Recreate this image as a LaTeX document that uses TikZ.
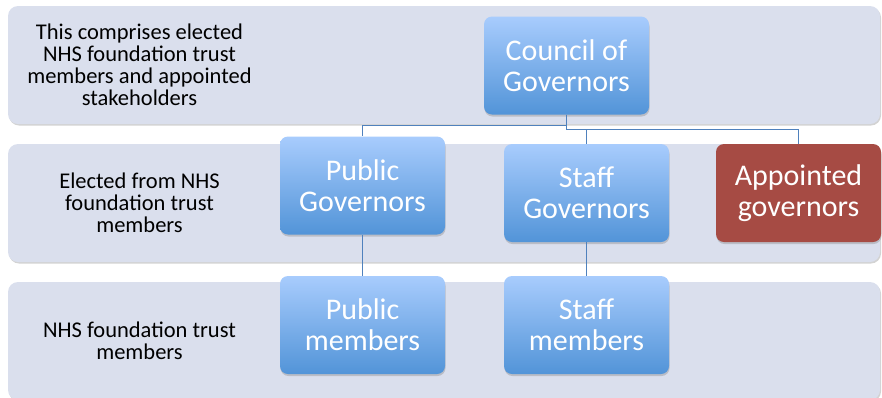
\documentclass[tikz,border=0pt]{standalone}
\usepackage{fontspec}
\setmainfont{Carlito}
\usetikzlibrary{shadows}

\definecolor{bandfill}{RGB}{218,223,237}
\definecolor{govtop}{RGB}{168,204,253}
\definecolor{govbot}{RGB}{82,148,216}
\definecolor{govred}{RGB}{166,75,68}
\definecolor{linkblue}{RGB}{79,129,189}

\tikzset{
	band/.style={fill=bandfill,rounded corners=10pt,minimum width=872,minimum height=118,inner sep=0pt,
		drop shadow={shadow xshift=1pt,shadow yshift=-1.5pt,opacity=0.35}},
	govbox/.style={top color=govtop,bottom color=govbot,rounded corners=8pt,minimum width=165,minimum height=98,
		inner sep=0pt,align=center,text=white,font=\fontsize{30}{31}\selectfont,
		drop shadow={shadow xshift=0.5pt,shadow yshift=-2pt,opacity=0.35}},
	redbox/.style={govbox,top color=govred,bottom color=govred},
	note/.style={align=center,font=\fontsize{22.5}{22}\selectfont,text=black},
	link/.style={draw=linkblue,line width=1.5pt}
}

\begin{document}
\begin{tikzpicture}[x=1pt,y=1pt]
	\useasboundingbox (0,0) rectangle (882,-397);

	%bands
	\node[band] (toprow) at (444,-65) {};
	\node[band] (midrow) at (444,-203) {};
	\node[band] (lowrow) at (444,-341) {};

	%band texts
	\node[note] (topnote) at (139.5,-65) {This comprises elected\\NHS foundation trust\\members and appointed\\stakeholders};
	\node[note] (midnote) at (139.5,-203) {Elected from NHS\\foundation trust\\members};
	\node[note] (lownote) at (139.5,-341) {NHS foundation trust\\members};

	%boxes
	\node[govbox] (council) at (566.5,-65.5) {Council of\\Governors};
	\node[govbox] (pubgov) at (362.5,-185.5) {Public\\Governors};
	\node[govbox] (staffgov) at (586.5,-193) {Staff\\Governors};
	\node[redbox] (appgov) at (798.5,-193) {Appointed\\governors};
	\node[govbox] (pubmem) at (362.5,-325) {Public\\members};
	\node[govbox] (staffmem) at (586.5,-325) {Staff\\members};

	%connectors
	\draw[link] (council.south) -- ++(0,-11) -| (pubgov.north); %public governors
	\draw[link] (council.south) -- ++(0,-15) -| (staffgov.north); %staff governors
	\draw[link] (council.south) -- ++(0,-15) -| (appgov.north); %appointed governors
	\draw[link] (pubgov.south) -- (pubmem.north); %public
	\draw[link] (staffgov.south) -- (staffmem.north); %staff
\end{tikzpicture}
\end{document}
